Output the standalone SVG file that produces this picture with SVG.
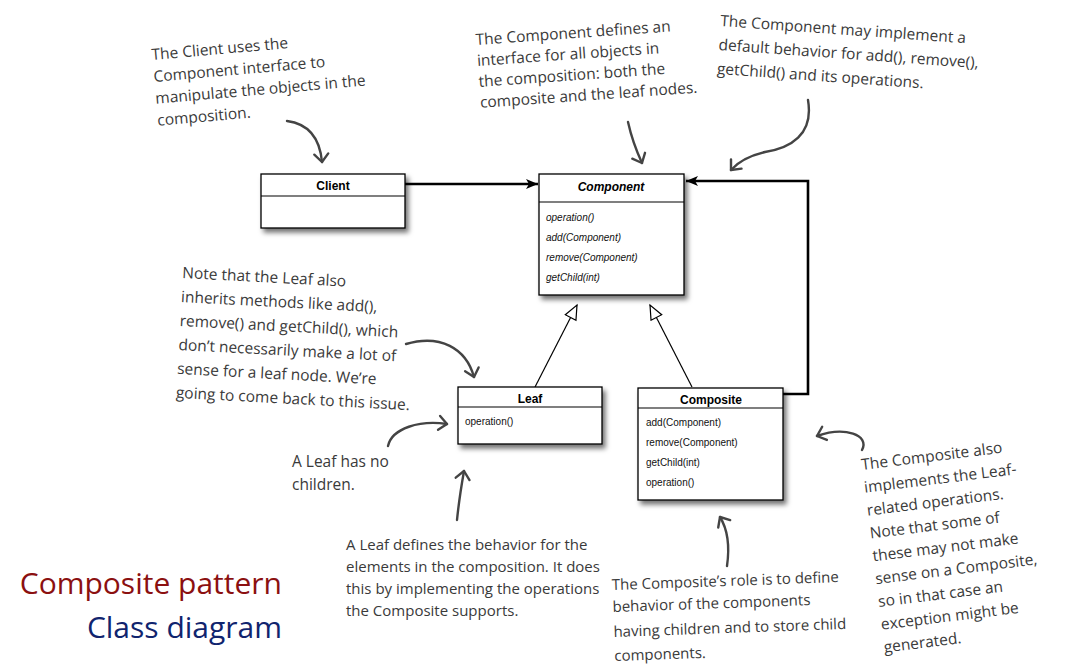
<svg xmlns="http://www.w3.org/2000/svg" width="1087" height="667" viewBox="0 0 1087 667">
<style>
.box{fill:#fff;stroke:#000;stroke-width:1.3}
.sep{stroke:#000;stroke-width:1.2}
.cname{font-family:"Liberation Sans",Arial,sans-serif;font-size:12px;font-weight:bold;text-anchor:middle;fill:#000}
.meth{font-family:"Liberation Sans",Arial,sans-serif;font-size:10px;fill:#111}
.it{font-style:italic}
.note{font-family:"Open Sans","Liberation Sans",sans-serif;font-size:15.5px;fill:#3a3a3a}
.sm{font-size:15px}
.hand{fill:none;stroke:#444;stroke-width:2.4;stroke-linecap:round}
.conn{fill:none;stroke:#000;stroke-width:2.6}
.thin{fill:none;stroke:#000;stroke-width:1.2}
.t1{font-family:"Open Sans","Liberation Sans",sans-serif;font-size:30px;fill:#8b1010}
.t2{font-family:"Open Sans","Liberation Sans",sans-serif;font-size:30px;fill:#10246e}
</style>
<defs>
<filter id="sh" x="-10%" y="-10%" width="130%" height="140%">
<feDropShadow dx="3" dy="4" stdDeviation="2.5" flood-color="#000" flood-opacity="0.55"/>
</filter>
<marker id="solid" markerWidth="14" markerHeight="12" refX="12" refY="5" orient="auto" markerUnits="userSpaceOnUse">
<path d="M0,0 L12,5 L0,10 L3,5 Z" fill="#000"/>
</marker>
<marker id="tri" markerWidth="18" markerHeight="16" refX="15" refY="7" orient="auto" markerUnits="userSpaceOnUse">
<path d="M1,1 L15,7 L1,13 Z" fill="#fff" stroke="#000" stroke-width="1.2"/>
</marker>
<marker id="vee" markerWidth="20" markerHeight="20" refX="10" refY="10" orient="auto" markerUnits="userSpaceOnUse">
<path d="M2,3 L10,10 L2,17" fill="none" stroke="#444" stroke-width="2.4" stroke-linecap="round" stroke-linejoin="round"/>
</marker>
</defs>
<rect width="1087" height="667" fill="#fff"/>

<g id="connectors">
<line class="conn" x1="405" y1="184" x2="538" y2="184" marker-end="url(#solid)"/>
<polyline class="conn" points="783,394 808,394 808,181 686,181" marker-end="url(#solid)"/>
<line class="thin" x1="535" y1="387" x2="577" y2="305" marker-end="url(#tri)"/>
<line class="thin" x1="692" y1="387" x2="650" y2="305" marker-end="url(#tri)"/>
</g>

<g id="client">
<rect class="box" x="261" y="174" width="144" height="54" filter="url(#sh)"/>
<line class="sep" x1="261" y1="196" x2="405" y2="196"/>
<text class="cname" x="333" y="190">Client</text>
</g>

<g id="component">
<rect class="box" x="539" y="174" width="145" height="121" filter="url(#sh)"/>
<line class="sep" x1="539" y1="202" x2="684" y2="202"/>
<text class="cname it" x="611" y="191">Component</text>
<text class="meth it" x="546" y="221">operation()</text>
<text class="meth it" x="546" y="241">add(Component)</text>
<text class="meth it" x="546" y="261">remove(Component)</text>
<text class="meth it" x="546" y="281">getChild(int)</text>
</g>

<g id="leaf">
<rect class="box" x="458" y="387" width="144" height="57" filter="url(#sh)"/>
<line class="sep" x1="458" y1="407" x2="602" y2="407"/>
<text class="cname" x="530" y="403">Leaf</text>
<text class="meth" x="465" y="425">operation()</text>
</g>

<g id="composite">
<rect class="box" x="638" y="388" width="145" height="112" filter="url(#sh)"/>
<line class="sep" x1="638" y1="408" x2="783" y2="408"/>
<text class="cname" x="711" y="404">Composite</text>
<text class="meth" x="646" y="426">add(Component)</text>
<text class="meth" x="646" y="446">remove(Component)</text>
<text class="meth" x="646" y="466">getChild(int)</text>
<text class="meth" x="646" y="486">operation()</text>
</g>

<g id="note-client" transform="rotate(-5 152 60)">
<text class="note" x="152" y="60">The Client uses the</text>
<text class="note" x="152" y="82">Component interface to</text>
<text class="note" x="152" y="104">manipulate the objects in the</text>
<text class="note" x="152" y="126">composition.</text>
</g>
<path class="hand" d="M287,121 C310,124 320,140 322,162" marker-end="url(#vee)"/>

<g id="note-component" transform="rotate(-4 476 45)">
<text class="note" x="476" y="45">The Component defines an</text>
<text class="note" x="476" y="66">interface for all objects in</text>
<text class="note" x="476" y="87">the composition: both the</text>
<text class="note" x="476" y="108">composite and the leaf nodes.</text>
</g>
<path class="hand" d="M628,122 C632,140 636,150 642,163" marker-end="url(#vee)"/>

<g id="note-default" transform="rotate(4 720 26)">
<text class="note" x="720" y="26">The Component may implement a</text>
<text class="note" x="720" y="50">default behavior for add(), remove(),</text>
<text class="note" x="720" y="74">getChild() and its operations.</text>
</g>
<path class="hand" d="M808,100 C814,135 790,148 765,152 C748,156 738,162 731,170" marker-end="url(#vee)"/>

<g id="note-leaf-inherits" transform="rotate(3 182 278)">
<text class="note" x="182" y="278">Note that the Leaf also</text>
<text class="note" x="182" y="302">inherits methods like add(),</text>
<text class="note" x="182" y="326">remove() and getChild(), which</text>
<text class="note" x="182" y="350">don’t necessarily make a lot of</text>
<text class="note" x="182" y="374">sense for a leaf node. We’re</text>
<text class="note" x="182" y="398">going to come back to this issue.</text>
</g>
<path class="hand" d="M406,344 C440,334 466,348 474,377" marker-end="url(#vee)"/>

<g id="note-leaf-children">
<text class="note" x="292" y="467">A Leaf has no</text>
<text class="note" x="292" y="490">children.</text>
</g>
<path class="hand" d="M388,446 C392,428 420,420 447,424" marker-end="url(#vee)"/>

<g id="note-leaf-defines">
<text class="note sm" x="346" y="550">A Leaf defines the behavior for the</text>
<text class="note sm" x="346" y="572">elements in the composition.  It does</text>
<text class="note sm" x="346" y="594">this by implementing the operations</text>
<text class="note sm" x="346" y="616">the Composite supports.</text>
</g>
<path class="hand" d="M457,520 C459,500 461,488 464,471" marker-end="url(#vee)"/>

<g id="note-composite-role" transform="rotate(-2 612 590)">
<text class="note sm" x="612" y="590">The Composite’s role is to define</text>
<text class="note sm" x="612" y="612">behavior of the components</text>
<text class="note sm" x="612" y="637">having children and to store child</text>
<text class="note sm" x="612" y="661">components.</text>
</g>
<path class="hand" d="M727,566 C730,545 728,530 720,517" marker-end="url(#vee)"/>

<g id="note-composite-also" transform="rotate(-7 862 470)">
<text class="note" x="862" y="470">The Composite also</text>
<text class="note" x="862" y="493">implements the Leaf-</text>
<text class="note" x="862" y="516">related operations.</text>
<text class="note" x="862" y="539">Note that some of</text>
<text class="note" x="862" y="562">these may not make</text>
<text class="note" x="862" y="585">sense on a Composite,</text>
<text class="note" x="862" y="608">so in that case an</text>
<text class="note" x="862" y="631">exception might be</text>
<text class="note" x="862" y="654">generated.</text>
</g>
<path class="hand" d="M862,450 C870,435 845,426 817,436" marker-end="url(#vee)"/>

<g id="title">
<text class="t1" x="282" y="594" text-anchor="end">Composite pattern</text>
<text class="t2" x="282" y="638" text-anchor="end">Class diagram</text>
</g>
</svg>
